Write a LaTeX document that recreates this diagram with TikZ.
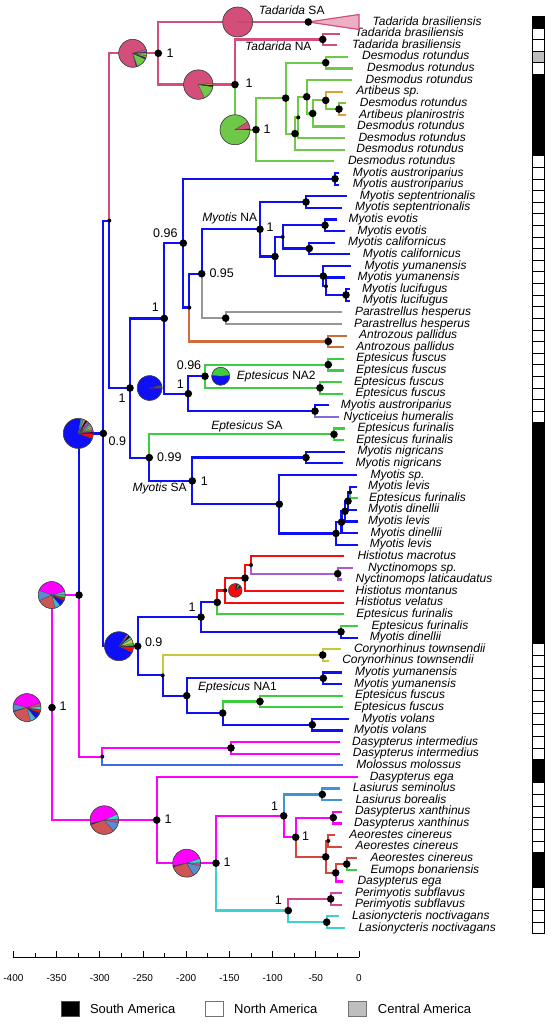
\documentclass[tikz,border=0pt]{standalone}
\usepackage{fontspec}
\setmainfont{Liberation Sans}
\usetikzlibrary{calc}
\definecolor{tadpink}{RGB}{212,78,122}
\definecolor{desgreen}{RGB}{112,200,72}
\definecolor{artorange}{RGB}{222,160,60}
\definecolor{myoblue}{RGB}{15,15,245}
\definecolor{parag}{RGB}{150,150,150}
\definecolor{antbrown}{RGB}{205,110,60}
\definecolor{eptgreen}{RGB}{64,204,64}
\definecolor{nycpurple}{RGB}{135,105,215}
\definecolor{histred}{RGB}{250,10,10}
\definecolor{nctpurple}{RGB}{170,90,215}
\definecolor{corolive}{RGB}{200,200,60}
\definecolor{dasmag}{RGB}{255,0,255}
\definecolor{molblue}{RGB}{65,105,225}
\definecolor{lasblue}{RGB}{60,150,210}
\definecolor{aered}{RGB}{215,70,60}
\definecolor{permag}{RGB}{210,70,140}
\definecolor{lsncyan}{RGB}{60,210,210}
\definecolor{indred}{RGB}{205,85,85}
\definecolor{steel}{RGB}{90,140,210}
\definecolor{piecyan}{RGB}{70,180,210}
\definecolor{cagrey}{RGB}{190,190,190}
\tikzset{
 brl/.style={line width=2.2pt},
 tiplab/.style={anchor=west,inner sep=0pt,font=\fontsize{12}{12}\selectfont\itshape,text height=8.6pt,text depth=2.4pt},
 suplab/.style={inner sep=0pt,font=\fontsize{12.5}{13}\selectfont},
 cladelab/.style={inner sep=0pt,font=\fontsize{12}{12}\selectfont},
 ticklab/.style={inner sep=0pt,font=\fontsize{10}{10}\selectfont},
 leglab/.style={anchor=west,inner sep=0pt,font=\fontsize{13}{13}\selectfont},
 bigdot/.style={fill=black},
}
\newcommand{\tipat}[4]{\coordinate (t#1) at (#2,{22+11.615*(#1-1)});\node[tiplab] (l#1) at (#3,{22+11.615*(#1-1)}) {#4};}
\newcommand{\inode}[4]{\coordinate (tmpmid) at ($(#3)!0.5!(#4)$);\coordinate (#1) at (#2,0 |- tmpmid);}
\newcommand{\brn}[3]{\draw[brl,#3] (#1) |- (#2);}
\newcommand{\drawpie}[3]{%
 \begin{scope}[shift={(#1)},yscale=-1]
 \foreach \angA/\angB/\pcol in {#3}{\filldraw[fill=\pcol,draw=black!75,line width=0.25pt] (0,0) -- (\angA:#2) arc[start angle=\angA,end angle=\angB,radius=#2] -- cycle;}
 \draw[black!75,line width=0.5pt] (0,0) circle[radius=#2];
 \end{scope}}
\begin{document}
\begin{tikzpicture}[x=1pt,y=-1pt]
\useasboundingbox (0,0) rectangle (550,1024);
\fill[white] (0,0) rectangle (550,1024);
% ---------- tips
\coordinate (t1) at (308.3,22);
\node[tiplab] (l1) at (372.4,22) {Tadarida brasiliensis};
\tipat{2}{340}{354.8}{Tadarida brasiliensis}
\tipat{3}{336.7}{352}{Tadarida brasiliensis}
\tipat{4}{348.3}{361.9}{Desmodus rotundus}
\tipat{5}{353}{367}{Desmodus rotundus}
\tipat{6}{351.7}{365.4}{Desmodus rotundus}
\tipat{7}{342.7}{356.2}{Artibeus sp.}
\tipat{8}{346}{359.7}{Desmodus rotundus}
\tipat{9}{346}{359}{Artibeus planirostris}
\tipat{10}{345}{357}{Desmodus rotundus}
\tipat{11}{345}{358.3}{Desmodus rotundus}
\tipat{12}{345}{356.2}{Desmodus rotundus}
\tipat{13}{334}{347.8}{Desmodus rotundus}
\tipat{14}{339}{352.7}{Myotis austroriparius}
\tipat{15}{339}{352.7}{Myotis austroriparius}
\tipat{16}{347}{359.7}{Myotis septentrionalis}
\tipat{17}{342}{354.8}{Myotis septentrionalis}
\tipat{18}{337}{348.5}{Myotis evotis}
\tipat{19}{345}{357.3}{Myotis evotis}
\tipat{20}{335}{347.8}{Myotis californicus}
\tipat{21}{350}{362.6}{Myotis californicus}
\tipat{22}{351}{364.3}{Myotis yumanensis}
\tipat{23}{345}{357.3}{Myotis yumanensis}
\tipat{24}{350}{361.9}{Myotis lucifugus}
\tipat{25}{350}{362.6}{Myotis lucifugus}
\tipat{26}{342}{354.8}{Parastrellus hesperus}
\tipat{27}{342}{353.8}{Parastrellus hesperus}
\tipat{28}{347}{359}{Antrozous pallidus}
\tipat{29}{344}{356.2}{Antrozous pallidus}
\tipat{30}{344}{356.2}{Eptesicus fuscus}
\tipat{31}{344}{356.2}{Eptesicus fuscus}
\tipat{32}{342}{353.8}{Eptesicus fuscus}
\tipat{33}{343}{355.5}{Eptesicus fuscus}
\tipat{34}{329}{340.7}{Myotis austroriparius}
\tipat{35}{339}{343.5}{Nycticeius humeralis}
\tipat{36}{345}{357.3}{Eptesicus furinalis}
\tipat{37}{344}{356.2}{Eptesicus furinalis}
\tipat{38}{345}{357.3}{Myotis nigricans}
\tipat{39}{343}{355.5}{Myotis nigricans}
\tipat{40}{357}{370.3}{Myotis sp.}
\tipat{41}{357}{367.8}{Myotis levis}
\tipat{42}{358}{369}{Eptesicus furinalis}
\tipat{43}{357}{367.8}{Myotis dinellii}
\tipat{44}{358}{367.8}{Myotis levis}
\tipat{45}{358}{370.3}{Myotis dinellii}
\tipat{46}{358}{369.6}{Myotis levis}
\tipat{47}{344}{357.3}{Histiotus macrotus}
\tipat{48}{353}{367.8}{Nyctinomops sp.}
\tipat{49}{342}{355.5}{Nyctinomops laticaudatus}
\tipat{50}{344}{355.5}{Histiotus montanus}
\tipat{51}{344}{355.5}{Histiotus velatus}
\tipat{52}{344}{356.2}{Eptesicus furinalis}
\tipat{53}{358}{371.4}{Eptesicus furinalis}
\tipat{54}{358}{369.6}{Myotis dinellii}
\tipat{55}{341}{353.8}{Corynorhinus townsendii}
\tipat{56}{329}{342.1}{Corynorhinus townsendii}
\tipat{57}{342}{354.8}{Myotis yumanensis}
\tipat{58}{342}{353.8}{Myotis yumanensis}
\tipat{59}{343}{354.8}{Eptesicus fuscus}
\tipat{60}{343}{353.8}{Eptesicus fuscus}
\tipat{61}{349}{361.9}{Myotis volans}
\tipat{62}{343}{353.8}{Myotis volans}
\tipat{63}{340}{352}{Dasypterus intermedius}
\tipat{64}{340}{352.7}{Dasypterus intermedius}
\tipat{65}{343}{356.2}{Molossus molossus}
\tipat{66}{358}{369.6}{Dasypterus ega}
\tipat{67}{340}{352.7}{Lasiurus seminolus}
\tipat{68}{342}{355.5}{Lasiurus borealis}
\tipat{69}{342}{354.8}{Dasypterus xanthinus}
\tipat{70}{342}{353.8}{Dasypterus xanthinus}
\tipat{71}{335}{349.2}{Aeorestes cinereus}
\tipat{72}{342}{355.5}{Aeorestes cinereus}
\tipat{73}{357}{370.3}{Aeorestes cinereus}
\tipat{74}{357}{370.3}{Eumops bonariensis}
\tipat{75}{343}{357.3}{Dasypterus ega}
\tipat{76}{342}{354.8}{Perimyotis subflavus}
\tipat{77}{342}{354.8}{Perimyotis subflavus}
\tipat{78}{339}{352}{Lasionycteris noctivagans}
\tipat{79}{345}{358.3}{Lasionycteris noctivagans}
% ---------- internal nodes
\inode{nTNA}{322.7}{t2}{t3}
\inode{nD45}{325.7}{t4}{t5}
\inode{nD89}{339}{t8}{t9}
\inode{nC}{325.7}{t7}{nD89}
\inode{nB}{312.7}{nC}{t10}
\inode{nA}{306.7}{t6}{nB}
\inode{nE}{298.3}{nA}{t11}
\inode{nF}{295}{nE}{t12}
\inode{nDA}{285.7}{nD45}{nF}
\inode{nDes}{256}{nDA}{t13}
\inode{nTad2}{235}{nTNA}{nDes}
\inode{nTad}{158.3}{t1}{nTad2}
\inode{nAus}{335}{t14}{t15}
\inode{nSep}{306}{t16}{t17}
\inode{nEvo}{325}{t18}{t19}
\inode{nCal}{309.3}{t20}{t21}
\inode{nN}{282.7}{nEvo}{nCal}
\inode{nLuc}{346}{t24}{t25}
\inode{nP}{326}{t23}{nLuc}
\inode{nO}{323.3}{t22}{nP}
\inode{nM}{275}{nN}{nO}
\inode{nL}{260}{nSep}{nM}
\inode{nPar}{225.7}{t26}{t27}
\inode{nK}{201.7}{nL}{nPar}
\inode{nAnt}{328.3}{t28}{t29}
\inode{nJ}{189.3}{nK}{nAnt}
\inode{nI}{183.3}{nAus}{nJ}
\inode{nEf1}{328.3}{t30}{t31}
\inode{nEf2}{320}{t32}{t33}
\inode{nR}{205}{nEf1}{nEf2}
\inode{nNyc}{315}{t34}{t35}
\inode{nQ1}{188.3}{nR}{nNyc}
\inode{nH}{164.3}{nI}{nQ1}
\inode{nFur}{334}{t36}{t37}
\inode{nNig}{306}{t38}{t39}
\inode{n1}{350}{t41}{t42}
\inode{n2}{348}{n1}{t43}
\inode{n3}{345}{n2}{t44}
\inode{n4}{341.5}{n3}{t45}
\inode{n5}{336}{n4}{t46}
\inode{nT}{279.3}{t40}{n5}
\inode{nS}{192.3}{nNig}{nT}
\inode{n099}{149.3}{nFur}{nS}
\inode{nG}{130}{nH}{n099}
\inode{nN1}{109.3}{nTad}{nG}
\inode{nNct}{337.7}{t48}{t49}
\inode{nY4}{251}{t47}{nNct}
\inode{nY3}{245}{nY4}{t50}
\inode{nY2}{225.3}{nY3}{t51}
\inode{nY1}{217.3}{nY2}{t52}
\inode{nEf3}{341}{t53}{t54}
\inode{nX1}{201}{nY1}{nEf3}
\inode{nCor}{322.7}{t55}{t56}
\inode{nYum}{323.3}{t57}{t58}
\inode{nEf4}{260}{t59}{t60}
\inode{nVol}{312.3}{t61}{t62}
\inode{nX4}{222.7}{nEf4}{nVol}
\inode{nX3}{186.7}{nYum}{nX4}
\inode{nX2}{162.7}{nCor}{nX3}
\inode{nN2}{137.7}{nX1}{nX2}
\inode{n09}{103.3}{nN1}{nN2}
\inode{nDin}{231}{t63}{t64}
\inode{nMol}{102.3}{nDin}{t65}
\inode{nU}{79}{n09}{nMol}
\inode{nLas}{322.3}{t67}{t68}
\inode{nXan}{333.3}{t69}{t70}
\inode{nAe}{328.3}{t71}{t72}
\inode{nAE2}{346.7}{t73}{t74}
\inode{nL7}{335.7}{nAE2}{t75}
\inode{nL6}{325.7}{nAe}{nL7}
\inode{nL5}{295.7}{nXan}{nL6}
\inode{nL3}{283.7}{nLas}{nL5}
\inode{nPer}{330.7}{t76}{t77}
\inode{nLsn}{326.7}{t78}{t79}
\inode{nL4}{288.3}{nPer}{nLsn}
\inode{nL2}{216}{nL3}{nL4}
\inode{nLow}{156.7}{t66}{nL2}
\inode{root}{52}{nU}{nLow}
% ---------- branches
\brn{nTNA}{t2}{tadpink}\brn{nTNA}{t3}{tadpink}
\brn{nD45}{t4}{desgreen}\brn{nD45}{t5}{desgreen}
\brn{nD89}{t8}{desgreen}\brn{nD89}{t9}{artorange}
\brn{nC}{t7}{artorange}\brn{nC}{nD89}{desgreen}
\brn{nB}{nC}{desgreen}\brn{nB}{t10}{desgreen}
\brn{nA}{t6}{desgreen}\brn{nA}{nB}{desgreen}
\brn{nE}{nA}{desgreen}\brn{nE}{t11}{desgreen}
\brn{nF}{nE}{desgreen}\brn{nF}{t12}{desgreen}
\brn{nDA}{nD45}{desgreen}\brn{nDA}{nF}{desgreen}
\brn{nDes}{nDA}{desgreen}\brn{nDes}{t13}{desgreen}
\brn{nTad2}{nTNA}{tadpink}\brn{nTad2}{nDes}{desgreen}
\brn{nTad}{t1}{tadpink}\brn{nTad}{nTad2}{tadpink}
\brn{nAus}{t14}{myoblue}\brn{nAus}{t15}{myoblue}
\brn{nSep}{t16}{myoblue}\brn{nSep}{t17}{myoblue}
\brn{nEvo}{t18}{myoblue}\brn{nEvo}{t19}{myoblue}
\brn{nCal}{t20}{myoblue}\brn{nCal}{t21}{myoblue}
\brn{nN}{nEvo}{myoblue}\brn{nN}{nCal}{myoblue}
\brn{nLuc}{t24}{myoblue}\brn{nLuc}{t25}{myoblue}
\brn{nP}{t23}{myoblue}\brn{nP}{nLuc}{myoblue}
\brn{nO}{t22}{myoblue}\brn{nO}{nP}{myoblue}
\brn{nM}{nN}{myoblue}\brn{nM}{nO}{myoblue}
\brn{nL}{nSep}{myoblue}\brn{nL}{nM}{myoblue}
\brn{nPar}{t26}{parag}\brn{nPar}{t27}{parag}
\brn{nK}{nL}{myoblue}\brn{nK}{nPar}{parag}
\brn{nAnt}{t28}{antbrown}\brn{nAnt}{t29}{antbrown}
\brn{nJ}{nK}{myoblue}\brn{nJ}{nAnt}{antbrown}
\brn{nI}{nAus}{myoblue}\brn{nI}{nJ}{myoblue}
\brn{nEf1}{t30}{eptgreen}\brn{nEf1}{t31}{eptgreen}
\brn{nEf2}{t32}{eptgreen}\brn{nEf2}{t33}{eptgreen}
\brn{nR}{nEf1}{eptgreen}\brn{nR}{nEf2}{eptgreen}
\brn{nNyc}{t34}{myoblue}\brn{nNyc}{t35}{nycpurple}
\brn{nQ1}{nR}{myoblue}\brn{nQ1}{nNyc}{myoblue}
\brn{nH}{nI}{myoblue}\brn{nH}{nQ1}{myoblue}
\brn{nFur}{t36}{eptgreen}\brn{nFur}{t37}{eptgreen}
\brn{nNig}{t38}{myoblue}\brn{nNig}{t39}{myoblue}
\brn{n1}{t41}{myoblue}\brn{n1}{t42}{eptgreen}
\brn{n2}{n1}{myoblue}\brn{n2}{t43}{myoblue}
\brn{n3}{n2}{myoblue}\brn{n3}{t44}{myoblue}
\brn{n4}{n3}{myoblue}\brn{n4}{t45}{myoblue}
\brn{n5}{n4}{myoblue}\brn{n5}{t46}{myoblue}
\brn{nT}{t40}{myoblue}\brn{nT}{n5}{myoblue}
\brn{nS}{nNig}{myoblue}\brn{nS}{nT}{myoblue}
\brn{n099}{nFur}{eptgreen}\brn{n099}{nS}{myoblue}
\brn{nG}{nH}{myoblue}\brn{nG}{n099}{myoblue}
\brn{nN1}{nTad}{tadpink}\brn{nN1}{nG}{myoblue}
\brn{nNct}{t48}{nctpurple}\brn{nNct}{t49}{nctpurple}
\brn{nY4}{t47}{histred}\brn{nY4}{nNct}{nctpurple}
\brn{nY3}{nY4}{histred}\brn{nY3}{t50}{histred}
\brn{nY2}{nY3}{histred}\brn{nY2}{t51}{histred}
\brn{nY1}{nY2}{histred}\brn{nY1}{t52}{eptgreen}
\brn{nEf3}{t53}{eptgreen}\brn{nEf3}{t54}{myoblue}
\brn{nX1}{nY1}{myoblue}\brn{nX1}{nEf3}{myoblue}
\brn{nCor}{t55}{corolive}\brn{nCor}{t56}{corolive}
\brn{nYum}{t57}{myoblue}\brn{nYum}{t58}{myoblue}
\brn{nEf4}{t59}{eptgreen}\brn{nEf4}{t60}{eptgreen}
\brn{nVol}{t61}{myoblue}\brn{nVol}{t62}{myoblue}
\brn{nX4}{nEf4}{eptgreen}\brn{nX4}{nVol}{myoblue}
\brn{nX3}{nYum}{myoblue}\brn{nX3}{nX4}{myoblue}
\brn{nX2}{nCor}{corolive}\brn{nX2}{nX3}{myoblue}
\brn{nN2}{nX1}{myoblue}\brn{nN2}{nX2}{myoblue}
\brn{n09}{nN1}{myoblue}\brn{n09}{nN2}{myoblue}
\brn{nDin}{t63}{dasmag}\brn{nDin}{t64}{dasmag}
\brn{nMol}{nDin}{dasmag}\brn{nMol}{t65}{molblue}
\brn{nU}{n09}{myoblue}\brn{nU}{nMol}{dasmag}
\brn{nLas}{t67}{lasblue}\brn{nLas}{t68}{lasblue}
\brn{nXan}{t69}{dasmag}\brn{nXan}{t70}{dasmag}
\brn{nAe}{t71}{aered}\brn{nAe}{t72}{aered}
\brn{nAE2}{t73}{aered}\brn{nAE2}{t74}{eptgreen}
\brn{nL7}{nAE2}{aered}\brn{nL7}{t75}{dasmag}
\brn{nL6}{nAe}{aered}\brn{nL6}{nL7}{aered}
\brn{nL5}{nXan}{dasmag}\brn{nL5}{nL6}{aered}
\brn{nL3}{nLas}{lasblue}\brn{nL3}{nL5}{dasmag}
\brn{nPer}{t76}{permag}\brn{nPer}{t77}{permag}
\brn{nLsn}{t78}{lsncyan}\brn{nLsn}{t79}{lsncyan}
\brn{nL4}{nPer}{permag}\brn{nL4}{nLsn}{lsncyan}
\brn{nL2}{nL3}{dasmag}\brn{nL2}{nL4}{lsncyan}
\brn{nLow}{t66}{dasmag}\brn{nLow}{nL2}{dasmag}
\brn{root}{nU}{dasmag}\brn{root}{nLow}{dasmag}
% Tadarida SA collapsed clade
\filldraw[fill=tadpink!45,draw=tadpink,line width=1.2pt,line join=miter] (t1) -- (359,14.5) -- (359,29.5) -- cycle;
% ---------- pies
\drawpie{132.7,0 |- nTad}{14}{15/285/tadpink,285/290/myoblue,290/335/desgreen,335/340/myoblue,340/343/black,343/350/artorange,350/362/desgreen,362/366/black,366/375/nctpurple}
\drawpie{198.3,0 |- nTad2}{14.7}{5/295/tadpink,295/352/desgreen,352/358/black,358/365/artorange}
\drawpie{237.7,22}{15}{0/360/tadpink}
\drawpie{235,0 |- nDes}{15}{32/360/desgreen,0/4/black,4/32/tadpink}
\drawpie{78.3,0 |- n09}{15}{80/340/myoblue,340/360/histred,0/6/black,6/14/dasmag,14/22/eptgreen,22/30/corolive,30/38/lsncyan,38/46/permag,46/54/nctpurple,54/62/black,62/70/artorange,70/80/lasblue}
\drawpie{119,0 |- nN2}{14.5}{55/335/myoblue,335/358/histred,358/362/black,2/12/eptgreen,12/30/corolive,30/40/lsncyan,40/48/black,48/55/tadpink}
\drawpie{149.6,0 |- nG}{12.5}{14/360/myoblue,0/5/histred,5/10/eptgreen,10/14/black}
\drawpie{220.7,0 |- nR}{9}{5/175/eptgreen,175/365/myoblue}
\drawpie{235.3,0 |- nY2}{6.8}{80/390/histred,30/50/myoblue,50/68/eptgreen,68/80/black}
\drawpie{27,0 |- root}{14}{20/165/dasmag,165/195/steel,195/198/black,198/285/indred,285/310/piecyan,310/333/myoblue,333/337/black,337/352/histred,352/365/lsncyan,365/380/permag}
\drawpie{51.7,0 |- nU}{13.5}{15/160/dasmag,160/205/steel,205/285/indred,285/310/piecyan,310/335/myoblue,335/338/black,338/350/histred,350/362/eptgreen,362/375/lsncyan}
\drawpie{104.3,0 |- nLow}{14.3}{25/195/dasmag,195/200/black,200/310/indred,310/350/steel,350/365/permag,365/385/lsncyan}
\drawpie{186.7,0 |- nL2}{14}{20/192/dasmag,192/197/black,197/300/indred,300/350/steel,350/362/permag,362/380/lsncyan}
% ---------- dots
\foreach \nd in {t1,nTNA,nD45,nD89,nC,nB,nA,nF,nDA,nDes,nTad2,nTad,nAus,nSep,nEvo,nCal,nLuc,nO,nM,nL,nPar,nK,nAnt,nI,nEf1,nEf2,nR,nNyc,nQ1,nH,nFur,nNig,n2,n3,n4,n5,nT,nS,n099,nG,nNct,nY3,nY1,nEf3,nX1,nCor,nYum,nEf4,nVol,nX4,nX3,nN2,n09,nDin,nU,nLas,nXan,nAE2,nL7,nL6,nL5,nL3,nPer,nLsn,nL4,nL2,nLow,root}{\fill[bigdot] (\nd) circle[radius=3.8];}
\foreach \nd in {nE,nN,nP,nJ,n1,nY4,nY2,nX2,nN1,nMol,nAe}{\fill[bigdot] (\nd) circle[radius=2];}
% ---------- support values
\node[suplab] (s1) at ($(nTad)+(11.7,0)$) {1};
\node[suplab] (s2) at ($(nTad2)+(14,-1)$) {1};
\node[suplab] (s3) at ($(nDes)+(11,-1)$) {1};
\node[suplab] (s4) at ($(nI)+(-18,-10)$) {0.96};
\node[suplab] (s5) at ($(nL)+(10,-2)$) {1};
\node[suplab] (s6) at ($(nK)+(20,-1)$) {0.95};
\node[suplab] (s7) at ($(nH)+(-9,-11)$) {1};
\node[suplab] (s8) at ($(nG)+(-8,10)$) {1};
\node[suplab] (s9) at ($(nR)+(-16,-11)$) {0.96};
\node[suplab] (s10) at ($(nQ1)+(-8,-9)$) {1};
\node[suplab] (s11) at ($(n09)+(14,8)$) {0.9};
\node[suplab] (s12) at ($(n099)+(20,0)$) {0.99};
\node[suplab] (s13) at ($(nS)+(12,0)$) {1};
\node[suplab] (s14) at ($(nX1)+(-9,-10)$) {1};
\node[suplab] (s15) at ($(nN2)+(16,-4)$) {0.9};
\node[suplab] (s16) at ($(root)+(11,-1)$) {1};
\node[suplab] (s17) at ($(nLow)+(11.5,-1)$) {1};
\node[suplab] (s18) at ($(nL2)+(11,-1)$) {1};
\node[suplab] (s19) at ($(nL3)+(-9,-10)$) {1};
\node[suplab] (s20) at ($(nL5)+(10,-1)$) {1};
\node[suplab] (s21) at ($(nL4)+(-10,-10)$) {1};
% ---------- clade labels
\node[cladelab] (cTSA) at (291.7,10.7) {\textit{Tadarida} SA};
\node[cladelab] (cTNA) at (278.3,46.7) {\textit{Tadarida} NA};
\node[cladelab] (cMNA) at (229.7,218.3) {\textit{Myotis} NA};
\node[cladelab,anchor=west] (cENA2) at (236.7,376.7) {\textit{Eptesicus} NA2};
\node[cladelab] (cESA) at (247,426.7) {\textit{Eptesicus} SA};
\node[cladelab] (cMSA) at (159.7,488.3) {\textit{Myotis} SA};
\node[cladelab] (cENA1) at (237.5,687.7) {\textit{Eptesicus} NA1};
% ---------- distribution bar
\foreach \ra/\rb/\rc in {1/1/black,2/3/white,4/4/cagrey,5/5/white,6/12/black,13/35/white,36/54/black,55/64/white,65/66/black,67/72/white,73/75/black,76/79/white}{
 \foreach \ri in {\ra,...,\rb}{\filldraw[fill=\rc,draw=black,line width=0.6pt] (532,{16.2+11.615*(\ri-1)}) rectangle ++(12,11.615);}}
% ---------- axis
\draw[line width=0.8pt] (13.4,957) -- (359,957);
\foreach \tv [count=\k] in {-400,-350,...,0}{\draw[line width=0.8pt] ({359+0.864*\tv},957) -- ++(0,-6); \node[ticklab] (tk\k) at ({359+0.864*\tv},978) {\tv};}
\foreach \tv in {-375,-325,...,-25}{\draw[line width=0.8pt] ({359+0.864*\tv},957) -- ++(0,-4);}
% ---------- legend
\filldraw[fill=black,draw=black!70,line width=0.6pt] (61.6,1001.7) rectangle (79.2,1016.7);
\node[leglab] (lg1) at (89.8,1009.2) {South America};
\filldraw[fill=white,draw=black!55,line width=0.6pt] (205,1001.7) rectangle (223.5,1016.7);
\node[leglab] (lg2) at (234,1009.2) {North America};
\filldraw[fill=cagrey,draw=black!55,line width=0.6pt] (348.5,1001.7) rectangle (366,1016.7);
\node[leglab] (lg3) at (377.7,1009.2) {Central America};
\end{tikzpicture}
\end{document}
